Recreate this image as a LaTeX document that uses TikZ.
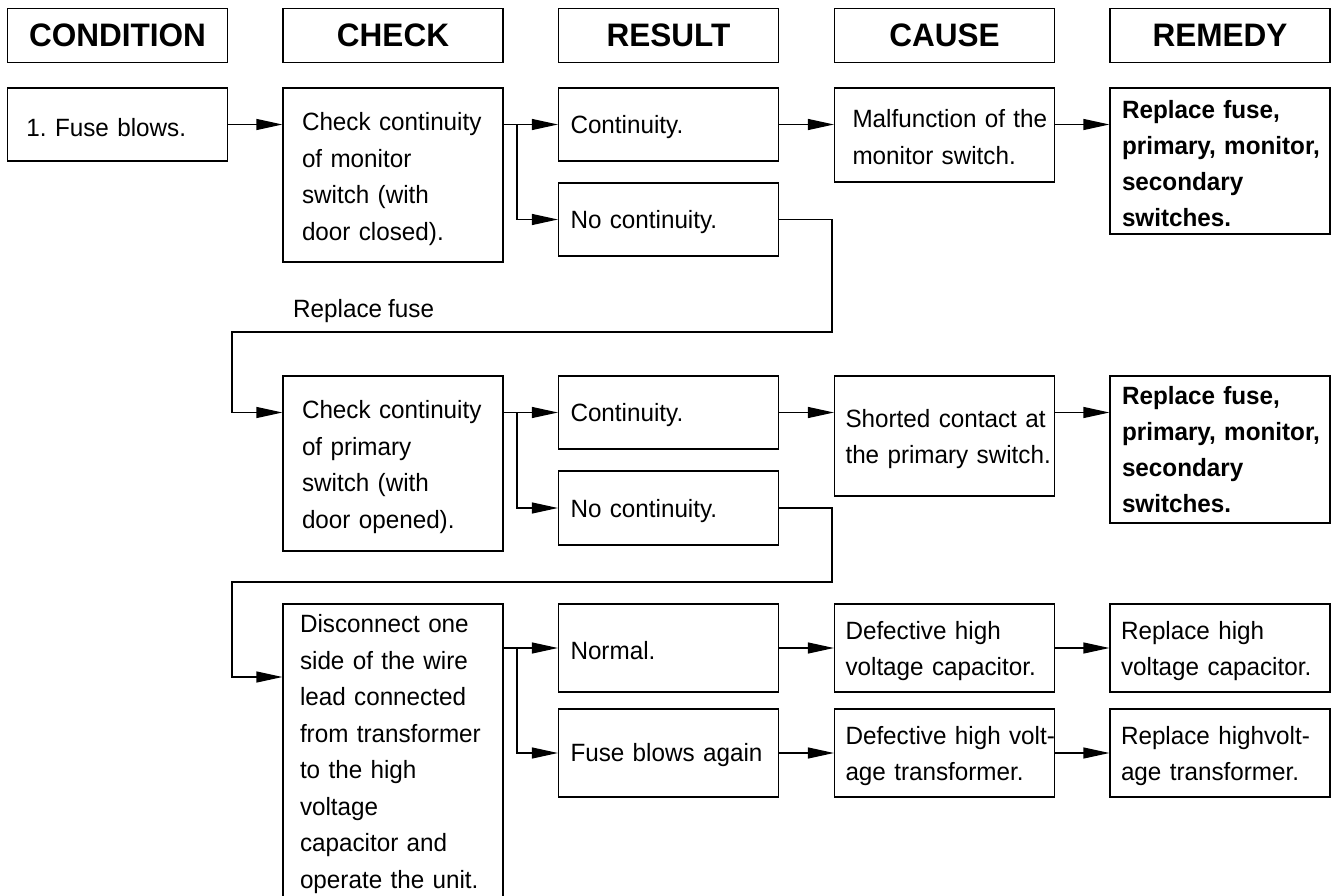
\documentclass[tikz,border=0pt]{standalone}
\usepackage{fontspec}
\setmainfont{Liberation Sans}[FakeStretch=0.97, WordSpace=0.9]
\usetikzlibrary{arrows.meta}
\frenchspacing
\tikzset{
  hdr/.style={draw, line width=1.2pt, minimum width=220pt, minimum height=54pt, inner sep=0pt, font=\bfseries\fontsize{32.5}{38}\selectfont},
  box/.style={draw, line width=1.2pt, text width=220pt, inner xsep=0pt, inner ysep=2pt, align=left, font=\fontsize{25}{36.5}\selectfont},
  bbox/.style={box, font=\bfseries\fontsize{25}{36}\selectfont},
  pad/.style={execute at begin node={\leftskip=#1pt\relax}},
  drop/.style={execute at begin node={\rule{0pt}{#1pt}}},
  conn/.style={line width=1.2pt, -{Triangle[length=26pt,width=11pt]}},
  lbl/.style={font=\fontsize{25}{36.5}\selectfont, inner sep=0pt},
}
\begin{document}
\begin{tikzpicture}[x=1pt,y=-1pt]
\useasboundingbox (0,0) rectangle (1331,896);
% headers
\node[hdr] (h1) at (117.5,35.5) {CONDITION};
\node[hdr] (h2) at (393,35.5) {CHECK};
\node[hdr] (h3) at (668.5,35.5) {RESULT};
\node[hdr] (h4) at (944.5,35.5) {CAUSE};
\node[hdr] (h5) at (1220,35.5) {REMEDY};
% row 1
\node[box, pad=19, drop=24, minimum height=73pt] (fuse) at (117.5,124.5) {1. Fuse blows.};
\node[box, pad=19, drop=26, minimum height=174pt] (chk1) at (393,175) {Check continuity\\of monitor\\switch (with\\door closed).};
\node[box, pad=12, drop=24, minimum height=73pt] (res1a) at (668.5,124.5) {Continuity.};
\node[box, pad=12, drop=24, minimum height=73pt] (res1b) at (668.5,219.5) {No continuity.};
\node[box, pad=18, drop=22, minimum height=94pt] (cause1) at (944.5,135) {\mbox{Malfunction of the}\\monitor switch.};
\node[bbox, pad=12, drop=23, minimum height=146pt] (rem1) at (1220,161) {Replace fuse,\\\mbox{primary, monitor,}\\secondary\\switches.};
% row 2
\node[box, pad=19, drop=25, minimum height=175pt] (chk2) at (393,463.5) {Check continuity\\of primary\\switch (with\\door opened).};
\node[box, pad=12, drop=24, minimum height=73pt] (res2a) at (668.5,412.5) {Continuity.};
\node[box, pad=12, drop=24, minimum height=74pt] (res2b) at (668.5,508) {No continuity.};
\node[box, pad=11, drop=24, minimum height=120pt] (cause2) at (944.5,436) {Shorted contact at\\\mbox{the primary switch.}};
\node[bbox, pad=12, minimum height=147pt] (rem2) at (1220,449.5) {Replace fuse,\\\mbox{primary, monitor,}\\secondary\\switches.};
% row 3
\node[box, pad=17, drop=24, minimum height=294pt] (chk3) at (393,751) {Disconnect one\\side of the wire\\lead connected\\from transformer\\to the high\\voltage\\capacitor and\\operate the unit.};
\node[box, pad=12, drop=23, minimum height=88pt] (res3a) at (668.5,648) {Normal.};
\node[box, pad=12, drop=23, minimum height=88pt] (res3b) at (668.5,753) {Fuse blows again};
\node[box, pad=11, drop=24, minimum height=88pt] (cause3a) at (944.5,648) {Defective high\\voltage capacitor.};
\node[box, pad=11, drop=24, minimum height=88pt] (cause3b) at (944.5,753) {\mbox{Defective high volt-}\\age transformer.};
\node[box, pad=11, drop=24, minimum height=88pt] (rem3a) at (1220,648) {Replace high\\voltage capacitor.};
\node[box, pad=11, drop=24, minimum height=88pt] (rem3b) at (1220,753) {\mbox{Replace highvolt-}\\age transformer.};
% label
\node[lbl, anchor=base west] (rf) at (293,317) {Replace fuse};
% connectors row 1
\draw[conn] (fuse.east) -- (fuse.east -| chk1.west);
\draw[conn] (chk1.east |- res1a.west) -- (res1a.west);
\coordinate (b1) at (517,124.5);
\draw[conn] (b1) |- (res1b.west);
\draw[conn] (res1a.east) -- (res1a.east -| cause1.west);
\draw[conn] (res1a.east -| cause1.east) -- (res1a.east -| rem1.west);
% loop 1
\coordinate (j1) at (832,332);
\coordinate (k1) at (232,332);
\draw[conn] (res1b.east) -| (j1) -- (k1) |- (chk2.west |- res2a.west);
% connectors row 2
\draw[conn] (chk2.east |- res2a.west) -- (res2a.west);
\coordinate (b2) at (517,412.5);
\draw[conn] (b2) |- (res2b.west);
\draw[conn] (res2a.east) -- (res2a.east -| cause2.west);
\draw[conn] (res2a.east -| cause2.east) -- (res2a.east -| rem2.west);
% loop 2
\coordinate (j2) at (832,582);
\coordinate (k2) at (232,582);
\coordinate (e2) at (232,677);
\draw[conn] (res2b.east) -| (j2) -- (k2) -- (e2) -- (e2 -| chk3.west);
% connectors row 3
\draw[conn] (chk3.east |- res3a.west) -- (res3a.west);
\coordinate (b3) at (517,648);
\draw[conn] (b3) |- (res3b.west);
\draw[conn] (res3a.east) -- (cause3a.west);
\draw[conn] (res3b.east) -- (cause3b.west);
\draw[conn] (cause3a.east) -- (rem3a.west);
\draw[conn] (cause3b.east) -- (rem3b.west);
\end{tikzpicture}
\end{document}
